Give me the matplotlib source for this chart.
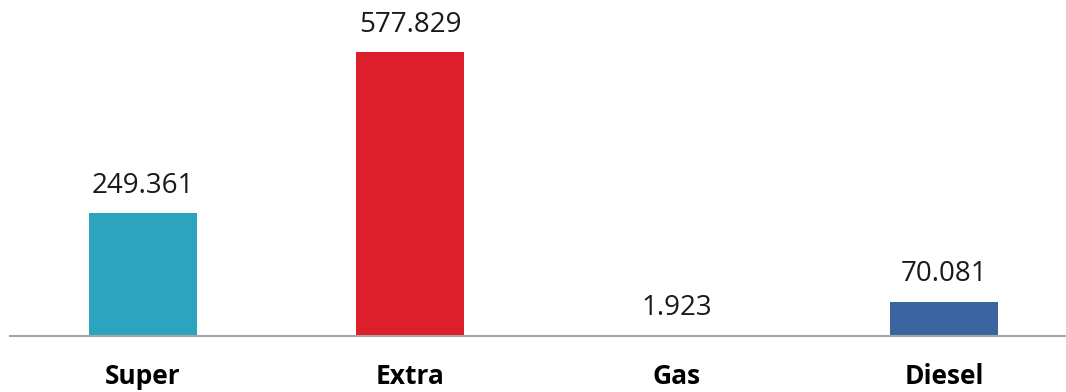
import matplotlib.pyplot as plt

# Fuel sales by type
categories = ['Super', 'Extra', 'Gas', 'Diesel']
values = [249.361, 577.829, 1.923, 70.081]
value_labels = ['249.361', '577.829', '1.923', '70.081']
colors = ['#2CA3BF', '#DC1F2B', '#D9663A', '#3A64A0']

fig = plt.figure(figsize=(10.66, 3.92), dpi=100)
ax = fig.add_axes([10 / 1066, 56 / 392, 1056 / 1066, 336 / 392])

x = range(len(categories))
bars = ax.bar(x, values, width=0.405, color=colors)

for b, lab in zip(bars, value_labels):
    ax.annotate(lab, (b.get_x() + b.get_width() / 2, b.get_height()),
                xytext=(0, 9.5), textcoords='offset points',
                ha='center', va='bottom', fontsize=20, family='Open Sans', color='#1a1a1a')

ax.set_xlim(-0.498, 3.457)
ax.set_ylim(0, 683.5)
ax.set_xticks(list(x))
ax.set_xticklabels(categories, fontsize=19, fontweight='bold', family='Open Sans')
ax.tick_params(axis='x', length=0, pad=19.5)
ax.set_yticks([])
for s in ['top', 'right', 'left']:
    ax.spines[s].set_visible(False)
ax.spines['bottom'].set_color('#A6A6A6')
ax.spines['bottom'].set_linewidth(1.5)

fig.savefig('out.png', dpi=100)
